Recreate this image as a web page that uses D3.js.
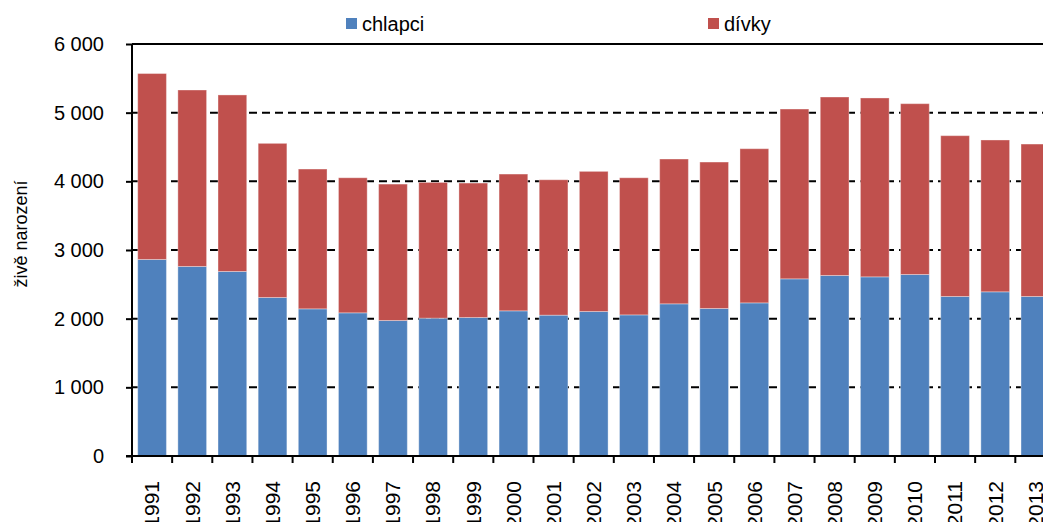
<!DOCTYPE html>
<html>
<head>
<meta charset="utf-8">
<script src="https://cdn.jsdelivr.net/npm/d3@7"></script>
<style>
  body { margin: 0; background: #fff; }
  svg { display: block; font-family: "Liberation Sans", Arial, sans-serif; }
</style>
</head>
<body>
<div id="container"></div>
<script>
var years = ["1991", "1992", "1993", "1994", "1995", "1996", "1997", "1998", "1999", "2000", "2001", "2002",
             "2003", "2004", "2005", "2006", "2007", "2008", "2009", "2010", "2011", "2012", "2013"];
var chlapci = [2862, 2760, 2687, 2308, 2143, 2085, 1973, 2007, 2017, 2114, 2051, 2104,
               2055, 2216, 2148, 2230, 2580, 2629, 2609, 2643, 2323, 2391, 2323];
var divky = [2708, 2570, 2571, 2245, 2036, 1967, 1987, 1977, 1958, 1992, 1972, 2041,
             1997, 2109, 2133, 2245, 2473, 2599, 2605, 2488, 2342, 2211, 2220];
var yTicks = [0, 1000, 2000, 3000, 4000, 5000, 6000];
var seriesNames = ["chlapci", "dívky"];
var colors = ["#4f81bd", "#c0504d"];

//-----------------------------SVG------------------------------//
const width = 1043;
const height = 522;
const plotLeft = 132;
const plotTop = 44;
const plotBottom = 456;
const step = 40.15;

const svg = d3.select("div#container").append("svg")
    .attr("width", width)
    .attr("height", height);

//----------------------------SCALES----------------------------//
const xScale = d3.scaleBand()
    .domain(years)
    .range([plotLeft, plotLeft + step * years.length])
    .paddingInner(0.285)
    .paddingOuter(0.1425);

const yScale = d3.scaleLinear()
    .domain([0, 6000])
    .range([plotBottom, plotTop]);

const fmt = function(v) { return d3.format(",")(v).replace(",", " "); };

//---------------------------GRIDLINES--------------------------//
svg.append("g")
    .selectAll("line")
    .data(yTicks.filter(function(d) { return d > 0; }))
    .enter()
    .append("line")
    .attr("x1", plotLeft)
    .attr("x2", width)
    .attr("y1", function(d) { return yScale(d); })
    .attr("y2", function(d) { return yScale(d); })
    .attr("stroke", "#000")
    .attr("stroke-width", 2)
    .attr("stroke-dasharray", function(d) { return d == 6000 ? null : "8,5"; });

//-----------------------------BARS-----------------------------//
const stackData = years.map(function(y, i) {
    return {year: y, chlapci: chlapci[i], "dívky": divky[i]};
});
const stacked = d3.stack().keys(seriesNames)(stackData);

svg.append("g")
    .selectAll("g")
    .data(stacked)
    .enter()
    .append("g")
    .attr("fill", function(d, i) { return colors[i]; })
    .selectAll("rect")
    .data(function(d) { return d; })
    .enter()
    .append("rect")
    .attr("x", function(d) { return xScale(d.data.year); })
    .attr("y", function(d) { return yScale(d[1]); })
    .attr("width", xScale.bandwidth())
    .attr("height", function(d) { return yScale(d[0]) - yScale(d[1]); })
    .attr("stroke", "rgba(255,255,255,0.35)")
    .attr("stroke-width", 1);

//-----------------------------AXES-----------------------------//
const yaxis = d3.axisLeft(yScale)
    .tickValues(yTicks)
    .tickSize(6)
    .tickPadding(22)
    .tickFormat(fmt);

const gy = svg.append("g")
    .attr("transform", "translate(" + plotLeft + ",0)")
    .call(yaxis);
gy.select(".domain").attr("stroke-width", 2).attr("d", "M0," + plotTop + "V" + plotBottom);
gy.selectAll(".tick line").attr("stroke-width", 2);
gy.selectAll(".tick text")
    .attr("font-size", 20)
    .attr("fill", "#000")
    .attr("font-family", "Liberation Sans, Arial, sans-serif");

// labels run off the bottom edge, as in the original picture
const xaxis = d3.axisBottom(xScale).tickSize(0).tickPadding(0);
const gx = svg.append("g")
    .attr("transform", "translate(0," + plotBottom + ")")
    .call(xaxis);
gx.select(".domain").attr("stroke-width", 2).attr("d", "M" + (plotLeft - 6) + ",0H" + width);
gx.selectAll(".tick text")
    .attr("transform", "rotate(-90)")
    .attr("x", -25)
    .attr("y", 0)
    .attr("dy", "0.35em")
    .attr("text-anchor", "end")
    .attr("font-size", 21)
    .attr("fill", "#000")
    .attr("font-family", "Liberation Sans, Arial, sans-serif");

// tick marks between the categories
svg.append("g")
    .selectAll("line")
    .data(d3.range(years.length + 1))
    .enter()
    .append("line")
    .attr("x1", function(i) { return plotLeft + i * step; })
    .attr("x2", function(i) { return plotLeft + i * step; })
    .attr("y1", plotBottom)
    .attr("y2", plotBottom + 7)
    .attr("stroke", "#000")
    .attr("stroke-width", 2);

svg.append("text")
    .attr("transform", "translate(27,234) rotate(-90)")
    .attr("text-anchor", "middle")
    .attr("font-size", 18)
    .text("živě narození");

//----------------------------LEGEND----------------------------//
const legendX = [346, 708];
const legend = svg.selectAll(".legend")
    .data(seriesNames)
    .enter()
    .append("g")
    .attr("class", "legend")
    .attr("transform", function(d, i) { return "translate(" + legendX[i] + ",18)"; });

legend.append("rect")
    .attr("width", 11)
    .attr("height", 11)
    .attr("fill", function(d, i) { return colors[i]; });

legend.append("text")
    .attr("x", 16)
    .attr("y", 13)
    .attr("font-size", 20)
    .text(function(d) { return d; });
</script>
</body>
</html>
